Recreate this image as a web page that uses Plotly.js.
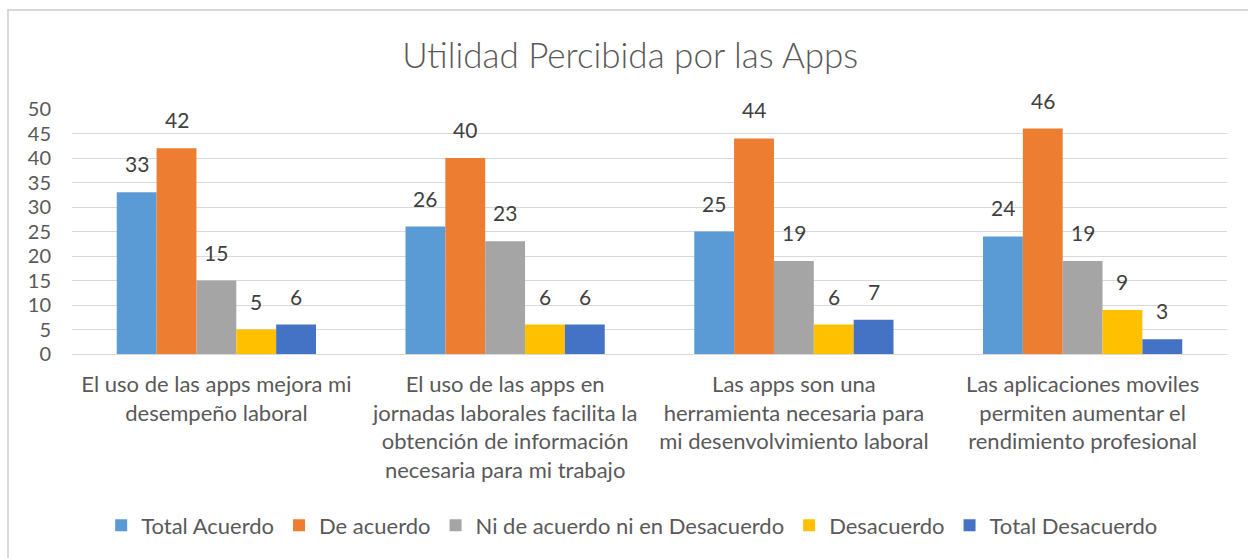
<!DOCTYPE html>
<html>
<head>
<meta charset="utf-8">
<script src="https://cdn.plot.ly/plotly-3.0.1.min.js"></script>
<style>
  html, body { margin: 0; padding: 0; background: #ffffff; }
  #wrap { position: relative; width: 1248px; height: 558px; }
  #chart { width: 1248px; height: 558px; }
  #frame { position: absolute; left: 7px; top: 9px; width: 1241px; height: 549px;
           border-left: 2px solid #D9D9D9; border-top: 2px solid #D9D9D9;
           box-sizing: border-box; pointer-events: none; }
</style>
</head>
<body>
<div id="wrap">
  <div id="chart"></div>
  <div id="frame"></div>
</div>
<script>
const categories = [
  "El uso de las apps mejora mi<br>desempeño laboral",
  "El uso de las apps en<br>jornadas laborales facilita la<br>obtención de información<br>necesaria para mi trabajo",
  "Las apps son una<br>herramienta necesaria para<br>mi desenvolvimiento laboral",
  "Las aplicaciones moviles<br>permiten aumentar el<br>rendimiento profesional"
];
const seriesNames = ["Total Acuerdo", "De acuerdo", "Ni de acuerdo ni en Desacuerdo", "Desacuerdo", "Total Desacuerdo"];
const totalAcuerdo = [33, 26, 25, 24];
const deAcuerdo = [42, 40, 44, 46];
const niNi = [15, 23, 19, 19];
const desacuerdo = [5, 6, 6, 9];
const totalDesacuerdo = [6, 6, 7, 3];
const colors = ["#5B9BD5", "#ED7D31", "#A5A5A5", "#FFC000", "#4472C4"];

const seriesValues = [totalAcuerdo, deAcuerdo, niNi, desacuerdo, totalDesacuerdo];
const FONT = "Lato, 'Open Sans', sans-serif";
const bargap = 0.31;

const traces = seriesValues.map((vals, i) => ({
  type: "bar",
  name: seriesNames[i],
  x: categories.map((c, k) => k),
  y: vals,
  marker: { color: colors[i] },
  hoverinfo: "y+name"
}));

const nS = seriesValues.length;
const barW = (1 - bargap) / nS;
const annotations = [];
seriesValues.forEach((vals, i) => {
  vals.forEach((v, k) => {
    annotations.push({
      x: k + (i - (nS - 1) / 2) * barW,
      y: v,
      xref: "x", yref: "y",
      text: String(v),
      showarrow: false,
      yanchor: "bottom",
      yshift: 14,
      font: { family: FONT, size: 21, color: "#404040" }
    });
  });
});

const layout = {
  width: 1248, height: 558,
  margin: { l: 72, r: 21, t: 109, b: 204 },
  paper_bgcolor: "#ffffff",
  plot_bgcolor: "#ffffff",
  title: {
    text: "Utilidad Percibida por las Apps",
    font: { family: FONT, size: 35, color: "#595959", weight: 300 },
    x: 0.505, xanchor: "center",
    y: 0.9, yanchor: "middle", yref: "container"
  },
  barmode: "group",
  bargap: bargap,
  bargroupgap: 0,
  xaxis: {
    type: "linear",
    range: [-0.5, 3.5],
    tickmode: "array",
    tickvals: categories.map((c, k) => k),
    ticktext: categories,
    showgrid: false,
    zeroline: false,
    showline: false,
    ticks: "",
    ticklabelstandoff: 15,
    tickfont: { family: FONT, size: 22, color: "#595959" },
    fixedrange: true
  },
  yaxis: {
    range: [0, 50],
    dtick: 5,
    showgrid: true,
    gridcolor: "#D9D9D9",
    gridwidth: 1,
    zeroline: true,
    zerolinecolor: "#D9D9D9",
    zerolinewidth: 1,
    showline: false,
    ticks: "",
    ticklabelstandoff: 20,
    tickfont: { family: FONT, size: 20, color: "#595959" },
    fixedrange: true
  },
  showlegend: true,
  legend: {
    orientation: "h",
    x: 0.485, xanchor: "center",
    y: -0.70, yanchor: "middle",
    font: { family: FONT, size: 22, color: "#595959" },
    itemwidth: 30,
    traceorder: "normal"
  },
  annotations: annotations
};

Plotly.newPlot("chart", traces, layout, { displayModeBar: false, staticPlot: true });
</script>
</body>
</html>
